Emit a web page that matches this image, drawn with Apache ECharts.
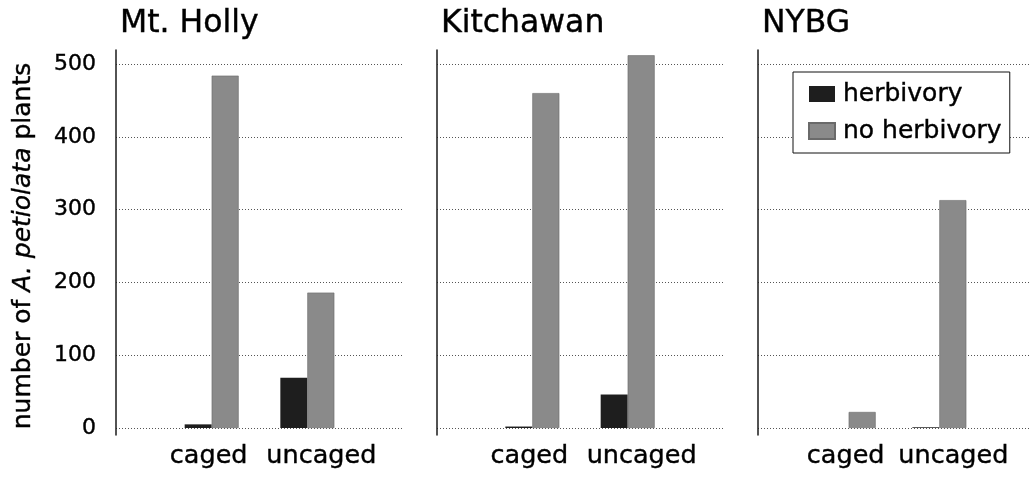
<!DOCTYPE html>
<html>
<head>
<meta charset="utf-8">
<script src="https://cdn.jsdelivr.net/npm/echarts@6/dist/echarts.min.js"></script>
<style>
  html, body { margin: 0; padding: 0; background: #fff; }
  #chart { width: 1033px; height: 478px; }
</style>
</head>
<body>
<div id="chart"></div>
<script>
// Counts of A. petiolata plants per site, split by cage treatment
const sites = ['Mt. Holly', 'Kitchawan', 'NYBG'];
const treatments = ['caged', 'uncaged'];
const herbivory = [[5, 69], [2, 46], [0, 1]];
const noHerbivory = [[484, 186], [460, 512], [22, 313]];
const yMin = 0, yMax = 500, yStep = 100;

// padded category list so the two treatments sit at 1/3 and 2/3 of each panel
const categories = [''].concat(treatments, ['']);
const pad = vals => ['-'].concat(vals, ['-']);

const FONT = 'DejaVu Sans';
const INK = { color: '#000', textBorderColor: '#000', textBorderWidth: 0.4 };
const panelLeft = [116, 437, 758];
const panelWidth = [287, 286, 284];
const plotTop = 64, plotHeight = 364;

const grids = [], xAxes = [], yAxes = [], series = [], titles = [];

sites.forEach((site, i) => {
  grids.push({ left: panelLeft[i], top: plotTop, width: panelWidth[i], height: plotHeight, containLabel: false });
  xAxes.push({
    type: 'category', gridIndex: i, data: categories, boundaryGap: false,
    axisLine: { show: false }, axisTick: { show: false },
    axisLabel: {
      interval: 0, margin: 15,
      formatter: v => v === 'caged' ? '{c|caged}' : v === 'uncaged' ? '{u|uncaged}' : '',
      rich: {
        c: Object.assign({ fontFamily: FONT, fontSize: 25.5, padding: [0, 6, 0, 0] }, INK),
        u: Object.assign({ fontFamily: FONT, fontSize: 25.5, padding: [0, 0, 0, 28] }, INK)
      }
    }
  });
  yAxes.push({
    type: 'value', gridIndex: i, min: yMin, max: yMax, interval: yStep,
    axisLine: { show: false }, axisTick: { show: false },
    axisLabel: Object.assign({ show: i === 0, fontFamily: FONT, fontSize: 22, margin: 20 }, INK),
    splitLine: { show: true, lineStyle: { color: '#555', width: 1, type: [1, 2] } },
    name: i === 0 ? '{n|number of }{i|A. petiolata}{n| plants}' : '',
    nameLocation: 'middle', nameRotate: 90, nameGap: 80,
    nameTextStyle: {
      rich: {
        n: Object.assign({ fontFamily: FONT, fontSize: 25 }, INK),
        i: Object.assign({ fontFamily: FONT, fontSize: 25, fontStyle: 'italic' }, INK)
      }
    }
  });
  series.push({
    type: 'bar', name: 'herbivory', xAxisIndex: i, yAxisIndex: i,
    data: pad(herbivory[i]), barWidth: 27, barGap: '0%', clip: false,
    itemStyle: { color: '#1e1e1e' }
  });
  series.push({
    type: 'bar', name: 'no herbivory', xAxisIndex: i, yAxisIndex: i,
    data: pad(noHerbivory[i]), barWidth: 27, barGap: '0%', clip: false,
    itemStyle: { color: '#8a8a8a', borderColor: '#6a6a6a', borderWidth: 0.6 }
  });
  titles.push({
    text: site, left: panelLeft[i] + 4, top: 8, padding: 0,
    textStyle: Object.assign({ fontFamily: FONT, fontSize: 31.5, fontWeight: 'normal' }, INK)
  });
});

// vertical frame line of each panel, a little taller than the plotting area
sites.forEach((site, i) => {
  const g = grids.length;
  grids.push({ left: panelLeft[i], top: 50, width: 1, height: 385 });
  xAxes.push({ type: 'value', gridIndex: g, show: false });
  yAxes.push({
    type: 'value', gridIndex: g, min: 0, max: 1,
    axisLine: { show: true, lineStyle: { color: '#1a1a1a', width: 1.5 } },
    axisTick: { show: false }, axisLabel: { show: false }, splitLine: { show: false }
  });
});

const chart = echarts.init(document.getElementById('chart'), null, { renderer: 'canvas' });
chart.setOption({
  animation: false,
  backgroundColor: '#fff',
  title: titles,
  grid: grids,
  xAxis: xAxes,
  yAxis: yAxes,
  legend: {
    data: ['herbivory', 'no herbivory'],
    orient: 'vertical', left: 793, top: 72,
    padding: [8, 8, 8, 15], itemGap: 9,
    itemWidth: 26, itemHeight: 16, icon: 'rect',
    backgroundColor: '#fff', borderColor: '#111', borderWidth: 1,
    textStyle: Object.assign({ fontFamily: FONT, fontSize: 25, lineHeight: 28, padding: [0, 0, 0, 3] }, INK)
  },
  series: series
});
</script>
</body>
</html>
